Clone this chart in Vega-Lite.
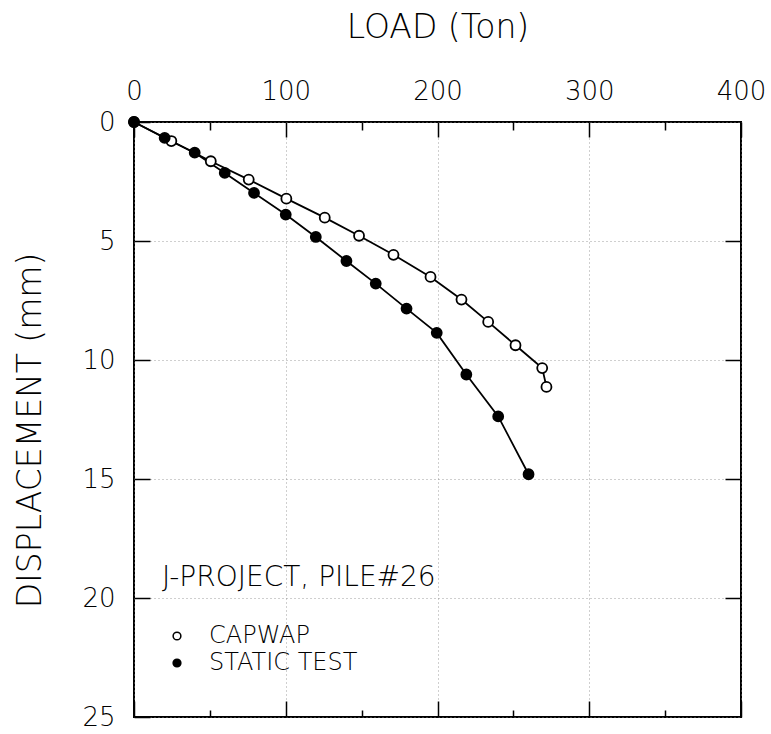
{
  "$schema": "https://vega.github.io/schema/vega-lite/v6.json",
  "width": 607,
  "height": 595,
  "autosize": {"type": "none"},
  "padding": {"left": 134, "top": 122, "right": 30, "bottom": 17},
  "background": "white",
  "config": {
    "view": {"stroke": "black", "strokeWidth": 2},
    "font": "DejaVu Sans",
    "axis": {
      "domain": false,
      "labelFont": "DejaVu Sans",
      "titleFont": "DejaVu Sans",
      "labelFontWeight": 200,
      "titleFontWeight": 200,
      "labelColor": "black",
      "titleColor": "black",
      "tickColor": "black",
      "tickWidth": 1.5,
      "labelFontSize": 26,
      "titleFontSize": 33,
      "labelFlush": false
    },
    "legend": {
      "labelFont": "DejaVu Sans",
      "titleFont": "DejaVu Sans"
    }
  },
  "data": {
    "values": [
      {"series": "CAPWAP", "load": 0, "disp": 0},
      {"series": "CAPWAP", "load": 24.6, "disp": 0.80},
      {"series": "CAPWAP", "load": 50.6, "disp": 1.65},
      {"series": "CAPWAP", "load": 75.6, "disp": 2.42},
      {"series": "CAPWAP", "load": 100.4, "disp": 3.22},
      {"series": "CAPWAP", "load": 125.7, "disp": 4.02},
      {"series": "CAPWAP", "load": 148.3, "disp": 4.78},
      {"series": "CAPWAP", "load": 171.0, "disp": 5.58},
      {"series": "CAPWAP", "load": 195.4, "disp": 6.51},
      {"series": "CAPWAP", "load": 215.8, "disp": 7.46},
      {"series": "CAPWAP", "load": 233.4, "disp": 8.40},
      {"series": "CAPWAP", "load": 251.4, "disp": 9.38},
      {"series": "CAPWAP", "load": 269.0, "disp": 10.34},
      {"series": "CAPWAP", "load": 271.8, "disp": 11.13},
      {"series": "STATIC TEST", "load": 0, "disp": 0},
      {"series": "STATIC TEST", "load": 20.2, "disp": 0.67},
      {"series": "STATIC TEST", "load": 40.0, "disp": 1.29},
      {"series": "STATIC TEST", "load": 59.8, "disp": 2.14},
      {"series": "STATIC TEST", "load": 79.1, "disp": 2.98},
      {"series": "STATIC TEST", "load": 100.0, "disp": 3.89},
      {"series": "STATIC TEST", "load": 119.8, "disp": 4.83},
      {"series": "STATIC TEST", "load": 140.0, "disp": 5.84},
      {"series": "STATIC TEST", "load": 159.3, "disp": 6.79},
      {"series": "STATIC TEST", "load": 179.6, "disp": 7.84},
      {"series": "STATIC TEST", "load": 199.5, "disp": 8.86},
      {"series": "STATIC TEST", "load": 219.0, "disp": 10.61},
      {"series": "STATIC TEST", "load": 240.0, "disp": 12.37},
      {"series": "STATIC TEST", "load": 260.0, "disp": 14.8}
    ]
  },
  "resolve": {"axis": {"x": "independent", "y": "independent"}},
  "layer": [
    {
      "mark": {"type": "line", "color": "black", "strokeWidth": 1.8},
      "encoding": {
        "x": {
          "field": "load", "type": "quantitative",
          "scale": {"domain": [0, 400], "nice": false},
          "axis": {
            "orient": "top",
            "title": "LOAD (Ton)",
            "values": [0, 50, 100, 150, 200, 250, 300, 350, 400],
            "labelExpr": "datum.value % 100 === 0 ? datum.label : ''",
            "tickSize": {"condition": {"test": "datum.value % 100 === 0", "value": -15}, "value": -8},
            "labelPadding": 33,
            "titlePadding": 34,
            "grid": true,
            "gridColor": "#888",
            "gridDash": [1, 3],
            "gridWidth": 1,
            "gridOpacity": {"condition": {"test": "datum.value % 100 === 0", "value": 0.8}, "value": 0}
          }
        },
        "y": {
          "field": "disp", "type": "quantitative",
          "scale": {"domain": [0, 25], "nice": false, "reverse": true},
          "axis": {
            "orient": "left",
            "title": "DISPLACEMENT (mm)",
            "titleFontSize": 33,
            "titleY": 308,
            "values": [0, 5, 10, 15, 20, 25],
            "tickSize": -16,
            "labelPadding": 35,
            "titlePadding": 34,
            "grid": true,
            "gridColor": "#888",
            "gridDash": [1, 3],
            "gridWidth": 1,
            "gridOpacity": 0.8
          }
        },
        "detail": {"field": "series"}
      }
    },
    {
      "mark": {"type": "point", "filled": false, "shape": "circle", "size": 100, "stroke": "black", "strokeWidth": 1.8, "opacity": 1},
      "encoding": {
        "x": {
          "field": "load", "type": "quantitative",
          "scale": {"domain": [0, 400], "nice": false},
          "axis": {
            "orient": "bottom",
            "title": null,
            "values": [0, 50, 100, 150, 200, 250, 300, 350, 400],
            "labels": false,
            "grid": false,
            "tickSize": {"condition": {"test": "datum.value % 100 === 0", "value": -16}, "value": -7}
          }
        },
        "y": {
          "field": "disp", "type": "quantitative",
          "scale": {"domain": [0, 25], "nice": false, "reverse": true},
          "axis": {
            "orient": "right",
            "title": null,
            "values": [5, 10, 15, 20],
            "labels": false,
            "grid": false,
            "tickSize": -16
          }
        },
        "fill": {
          "field": "series", "type": "nominal",
          "scale": {"domain": ["CAPWAP", "STATIC TEST"], "range": ["white", "black"]},
          "legend": {
            "title": "J-PROJECT, PILE#26",
            "orient": "none",
            "legendX": 28,
            "legendY": 442,
            "titleFontSize": 28,
            "titleFontWeight": 200,
            "titleColor": "black",
            "titlePadding": 32,
            "titleLimit": 500,
            "labelLimit": 500,
            "labelFontSize": 24,
            "labelFontWeight": 200,
            "labelColor": "black",
            "labelOffset": 20,
            "symbolOffset": 3,
            "symbolType": "circle",
            "symbolSize": 60,
            "symbolStrokeColor": "black",
            "symbolStrokeWidth": 1.5,
            "rowPadding": 3
          }
        }
      }
    }
  ]
}
